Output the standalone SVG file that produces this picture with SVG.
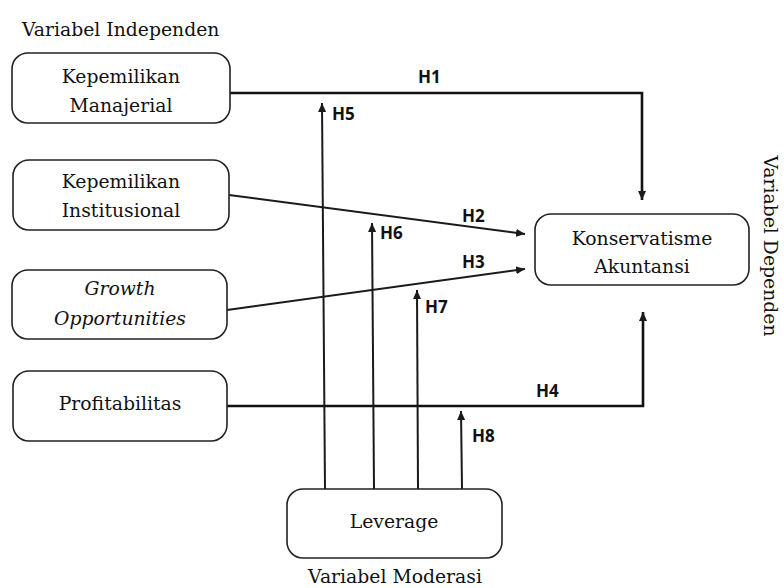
<svg xmlns="http://www.w3.org/2000/svg" width="784" height="588" viewBox="0 0 784 588">
  <style>
    .box { fill: #ffffff; stroke: #222222; stroke-width: 1.6; }
    .t { font-family: "DejaVu Serif", "Liberation Serif", serif; font-size: 18.8px; fill: #111111; text-anchor: middle; }
    .ti { font-style: italic; }
    .cap { font-family: "DejaVu Serif", "Liberation Serif", serif; font-size: 18.8px; fill: #111111; }
    .h { font-family: "Open Sans", "Liberation Sans", sans-serif; font-weight: 700; font-size: 17px; fill: #111111; }
    .ln { fill: none; stroke: #1a1a1a; stroke-width: 2; }
    .lnb { fill: none; stroke: #111111; stroke-width: 2.6; }
  </style>
  <defs>
    <marker id="arr" markerUnits="userSpaceOnUse" markerWidth="10" markerHeight="8" refX="9" refY="4" orient="auto">
      <path d="M0,0 L9,4 L0,8 z" fill="#1a1a1a"/>
    </marker>
  </defs>
  <rect width="784" height="588" fill="#ffffff"/>

  <text class="cap" x="22" y="36">Variabel Independen</text>
  <text class="cap" x="395" y="583" text-anchor="middle">Variabel Moderasi</text>
  <text class="cap" transform="translate(764,246) rotate(90)" text-anchor="middle">Variabel Dependen</text>

  <g id="connectors">
    <path class="lnb" d="M230,93 H642 V200" marker-end="url(#arr)"/>
    <path class="ln" d="M229,195 L525,234" marker-end="url(#arr)"/>
    <path class="ln" d="M227,310 L525,269" marker-end="url(#arr)"/>
    <path class="lnb" d="M227,406 H643 V312" marker-end="url(#arr)"/>
    <path class="ln" d="M325,489 L322,103" marker-end="url(#arr)"/>
    <path class="ln" d="M374,489 L372,223" marker-end="url(#arr)"/>
    <path class="ln" d="M418,489 L417,290" marker-end="url(#arr)"/>
    <path class="ln" d="M462,489 L461,411" marker-end="url(#arr)"/>
    <text class="h" x="418" y="83">H1</text>
    <text class="h" x="462" y="222">H2</text>
    <text class="h" x="462" y="268">H3</text>
    <text class="h" x="536" y="397">H4</text>
    <text class="h" x="332" y="120">H5</text>
    <text class="h" x="380" y="239">H6</text>
    <text class="h" x="425" y="313">H7</text>
    <text class="h" x="472" y="442">H8</text>
  </g>

  <g id="node-manajerial">
    <rect class="box" x="12" y="53" width="218" height="70" rx="16"/>
    <text class="t" x="121" y="83">Kepemilikan</text>
    <text class="t" x="121" y="112">Manajerial</text>
  </g>
  <g id="node-institusional">
    <rect class="box" x="13" y="160" width="216" height="70" rx="16"/>
    <text class="t" x="121" y="188">Kepemilikan</text>
    <text class="t" x="121" y="217">Institusional</text>
  </g>
  <g id="node-growth">
    <rect class="box" x="12" y="270" width="215" height="69" rx="16"/>
    <text class="t ti" x="120" y="295">Growth</text>
    <text class="t ti" x="120" y="325">Opportunities</text>
  </g>
  <g id="node-profitabilitas">
    <rect class="box" x="13" y="371" width="214" height="70" rx="16"/>
    <text class="t" x="120" y="410">Profitabilitas</text>
  </g>
  <g id="node-konservatisme">
    <rect class="box" x="535" y="214" width="214" height="71" rx="16"/>
    <text class="t" x="642" y="245">Konservatisme</text>
    <text class="t" x="642" y="273">Akuntansi</text>
  </g>
  <g id="node-leverage">
    <rect class="box" x="287" y="489" width="215" height="69" rx="16"/>
    <text class="t" x="394" y="528">Leverage</text>
  </g>
</svg>
